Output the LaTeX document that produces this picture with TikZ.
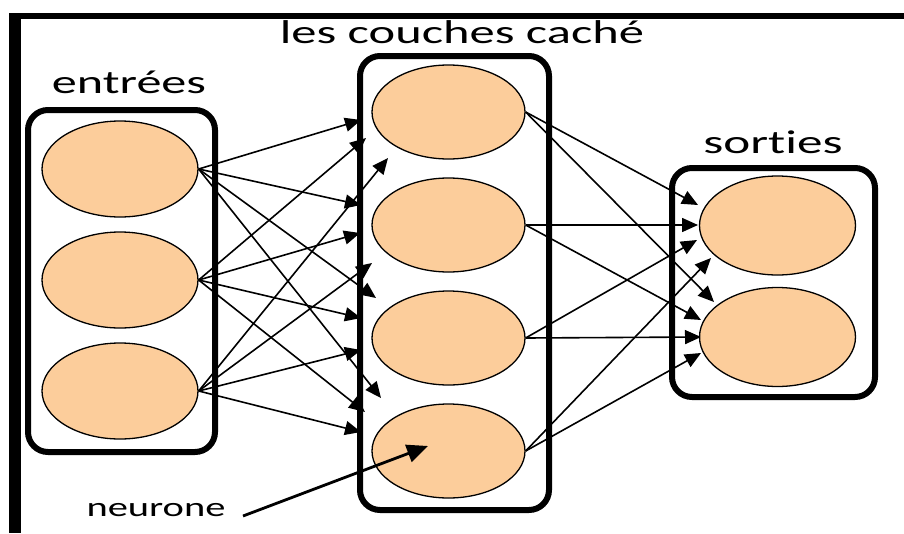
\documentclass[tikz,border=0pt]{standalone}
\usepackage{fontspec}
\setmainfont[Ligatures=NoCommon]{Carlito}
\usetikzlibrary{arrows.meta,shapes.geometric}
\definecolor{peach}{RGB}{252,205,155}
\begin{document}
\begin{tikzpicture}[x=1pt,y=-1pt,
  neuron/.style={ellipse,draw=black,line width=1.3pt,fill=peach,inner sep=0pt,
    minimum width=156pt,minimum height=96pt},
  layer/.style={draw=black,line width=6pt,rounded corners=20pt},
  link/.style={line width=1.6pt,-{Triangle[length=16pt,width=14pt]}},
  pointer/.style={line width=2.8pt,-{Triangle[length=21pt,width=18pt]}},
  title/.style={font=\fontsize{33}{36}\selectfont,inner sep=0pt,anchor=base},
  small/.style={font=\fontsize{27}{30}\selectfont,inner sep=0pt,anchor=base}]
\useasboundingbox (0,0) rectangle (904,533);

% outer frame (top and left edges)
\fill (9,13) rectangle (904,19);
\fill (9,13) rectangle (21,533);

% layer boxes
\draw[layer] (28,110) rectangle (215,452);
\draw[layer] (360,56) rectangle (549,510);
\draw[layer] (672,168) rectangle (875,397);

% layer titles (kern keeps "t" and "i" as separate glyphs)
\node[title] (tin)  at (129,93)  {\scalebox{1.52}[1]{entrées}};
\node[title] (thid) at (462,43)  {\scalebox{1.53}[1]{les couches caché}};
\node[title] (tout) at (773,153) {\scalebox{1.55}[1]{sort\kern0pt ies}};

% neurons
\node[neuron] (i1) at (120,169) {};
\node[neuron] (i2) at (120,280) {};
\node[neuron] (i3) at (120,391) {};

\node[neuron,minimum width=153pt,minimum height=94pt] (h1) at (448.5,112) {};
\node[neuron,minimum width=153pt,minimum height=94pt] (h2) at (448.5,225) {};
\node[neuron,minimum width=153pt,minimum height=94pt] (h3) at (448.5,338) {};
\node[neuron,minimum width=153pt,minimum height=94pt] (h4) at (448.5,451) {};

\node[neuron,minimum height=99pt] (o1) at (777.5,225.5) {};
\node[neuron,minimum height=99pt] (o2) at (777.5,337) {};

% arrow tips at the hidden layer
\coordinate (a11) at (361,120);
\coordinate (a21) at (366,138);
\coordinate (a31) at (388,158);
\coordinate (a12) at (361,205);
\coordinate (a22) at (360,233);
\coordinate (a32) at (372,263);
\coordinate (a13) at (376,298);
\coordinate (a23) at (361,318);
\coordinate (a33) at (361,350);
\coordinate (a14) at (381,398);
\coordinate (a24) at (365,412);
\coordinate (a34) at (361,432);

% arrow tips at the output layer
\coordinate (b11) at (698,205);
\coordinate (b12) at (714,302);
\coordinate (b21) at (698,225);
\coordinate (b22) at (701,320);
\coordinate (b31) at (697,240);
\coordinate (b32) at (701,337);
\coordinate (b41) at (711,258);
\coordinate (b42) at (701,353);

% input -> hidden
\foreach \i in {1,2,3}{
  \foreach \j in {1,2,3,4}{
    \draw[link] (i\i.east) -- (a\i\j);
  }
}

% hidden -> output
\foreach \j in {1,2,3,4}{
  \foreach \k in {1,2}{
    \draw[link] (h\j.east) -- (b\j\k);
  }
}

% neuron label with pointer
\node[small] (nlab) at (156,516) {\scalebox{1.5}[1]{neurone}};
\coordinate (nstart) at (243,516);
\coordinate (ntip) at (428,446);
\draw[pointer] (nstart) -- (ntip);
\end{tikzpicture}
\end{document}
